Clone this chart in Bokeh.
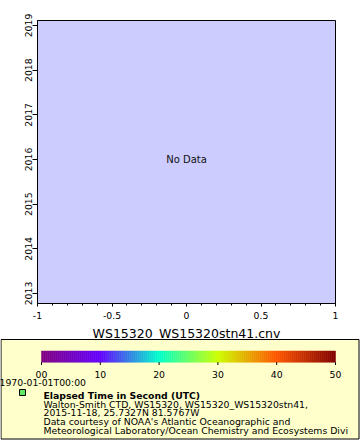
from bokeh.plotting import figure
from bokeh.models import Range1d, FixedTicker, CustomJSTickFormatter
from bokeh.layouts import column
from bokeh.core.properties import value
from bokeh.embed import file_html
from bokeh.resources import INLINE

# ---- data ----
x_start, x_end = -1.0, 1.0
x_ticks = [-1, -0.5, 0, 0.5, 1]
x_tick_labels = ["-1", "-0.5", "0", "0.5", "1"]
x_minor_ticks = [-0.9, -0.8, -0.7, -0.6, -0.4, -0.3, -0.2, -0.1,
                 0.1, 0.2, 0.3, 0.4, 0.6, 0.7, 0.8, 0.9]
y_start, y_end = 2012.776, 2019.112
y_ticks = [2013, 2014, 2015, 2016, 2017, 2018, 2019]
x_axis_title = "WS15320_WS15320stn41.cnv"
message = "No Data"
message_x, message_y = 0, 2016

cb_low, cb_high = 0, 50
cb_ticks = [0, 10, 20, 30, 40, 50]
cb_tick_labels = ["00", "10", "20", "30", "40", "50"]
time_label = "1970-01-01T00:00"
legend_title = "Elapsed Time in Second (UTC)"
legend_lines = [
    "Walton-Smith CTD, WS15320, WS15320_WS15320stn41,",
    "2015-11-18, 25.7327N 81.5767W",
    "Data courtesy of NOAA's Atlantic Oceanographic and",
    "Meteorological Laboratory/Ocean Chemistry and Ecosystems Divi",
]

# palette stops (style)
stop_vals = [0, 10, 20, 30, 40, 50]
stop_rgb = [(128, 0, 128), (100, 0, 255), (0, 255, 204),
            (204, 255, 0), (255, 85, 0), (128, 0, 0)]

FONT = "DejaVu Sans"
W = 360
H1 = 324
H2 = 116


def no_align(p):
    try:
        p.frame_align = False
    except Exception:
        pass


# ---- main plot ----
p1 = figure(width=W, height=H1, x_range=Range1d(x_start, x_end),
            y_range=Range1d(y_start, y_end), output_backend="svg",
            toolbar_location=None, tools="",
            min_border_left=37, min_border_right=25,
            min_border_top=20, min_border_bottom=H1 - 303)
no_align(p1)
p1.background_fill_color = "#CCCCFF"
p1.border_fill_color = "white"
p1.outline_line_color = "black"
p1.outline_line_width = 1
p1.grid.visible = False

xa = p1.xaxis[0]
xa.ticker = FixedTicker(ticks=x_ticks, minor_ticks=x_minor_ticks)
xa.formatter = CustomJSTickFormatter(
    args=dict(tv=x_ticks, tl=x_tick_labels),
    code="""
    let best = 0;
    for (let i = 0; i < tv.length; i++) {
        if (Math.abs(tv[i] - tick) < Math.abs(tv[best] - tick)) best = i;
    }
    return tl[best];
    """)
xa.major_tick_in = 0
xa.major_tick_out = 3
xa.minor_tick_in = 0
xa.minor_tick_out = 2
xa.major_label_standoff = 5
xa.minor_tick_line_color = "black"

ya = p1.yaxis[0]
ya.ticker = FixedTicker(ticks=y_ticks, minor_ticks=[])
ya.major_label_orientation = "vertical"
ya.major_tick_in = 0
ya.major_tick_out = 5
ya.minor_tick_line_color = None
ya.major_label_standoff = 0

for ax in (xa, ya):
    ax.axis_line_color = "black"
    ax.major_tick_line_color = "black"
    ax.major_label_text_font = FONT
    ax.major_label_text_font_size = "9.3px"
    ax.major_label_text_color = "black"

p1.text(x=[message_x], y=[message_y], text=[message], text_align="center",
        text_baseline="middle", text_font=value(FONT), text_font_size="10px",
        text_color="#111111")

# ---- legend / footer panel ----
cb_left_px, cb_right_px = 41, 335
span = (cb_high - cb_low) / (cb_right_px - cb_left_px)
p2 = figure(width=W, height=H2, x_range=Range1d(0, W), y_range=Range1d(H2, 0),
            output_backend="svg", toolbar_location=None, tools="",
            x_axis_location=None, y_axis_location=None, min_border=0,
            min_border_left=0, min_border_right=0,
            min_border_top=0, min_border_bottom=0)
no_align(p2)
p2.extra_x_ranges = {"cb": Range1d(cb_low - cb_left_px * span,
                                   cb_high + (W - cb_right_px) * span)}
p2.outline_line_color = None
p2.background_fill_color = "white"
p2.border_fill_color = "white"
p2.grid.visible = False

# axis title of the main plot
p2.text(x=[(37 + 335) / 2], y=[9], text=[x_axis_title], text_align="center",
        text_baseline="alphabetic", text_font=value(FONT),
        text_font_size="12.5px", text_color="black")

# box background
box_l, box_r, box_t, box_b = 0.5, 358.5, 15, 114.5
p2.quad(left=[box_l], right=[box_r], top=[box_t], bottom=[box_b],
        fill_color="#FFFFCC", line_color=None)

# colour bar
n = 147
edges = [cb_low + (cb_high - cb_low) * i / n for i in range(n + 1)]


def col_at(v):
    for k in range(len(stop_vals) - 1):
        if stop_vals[k] <= v <= stop_vals[k + 1]:
            t = (v - stop_vals[k]) / (stop_vals[k + 1] - stop_vals[k])
            a, b = stop_rgb[k], stop_rgb[k + 1]
            return "#%02x%02x%02x" % tuple(int(round(a[j] + (b[j] - a[j]) * t)) for j in range(3))
    return "#%02x%02x%02x" % stop_rgb[-1]


lefts = edges[:-1]
rights = edges[1:]
cols = [col_at((l + r) / 2) for l, r in zip(lefts, rights)]
p2.quad(left=lefts, right=rights, top=[26.5] * n, bottom=[37.7] * n,
        fill_color=cols, line_color=cols, line_width=0.5, x_range_name="cb")
p2.segment(x0=cb_ticks, x1=cb_ticks, y0=[37.7] * len(cb_ticks),
           y1=[40.5] * len(cb_ticks), line_color="black", line_width=1,
           x_range_name="cb")
p2.text(x=cb_ticks, y=[49.5] * len(cb_ticks), text=cb_tick_labels,
        text_align="center", text_baseline="alphabetic",
        text_font=value(FONT), text_font_size="9.3px", text_color="black",
        x_range_name="cb")

p2.text(x=[-1], y=[58], text=[time_label], text_align="left",
        text_baseline="alphabetic", text_font=value(FONT),
        text_font_size="9.3px", text_color="black")

p2.scatter(x=[22], y=[68], marker="square", size=6, fill_color="#60E860",
           line_color="black", line_width=1)
p2.text(x=[43], y=[71], text=[legend_title], text_align="left",
        text_baseline="alphabetic", text_font=value(FONT),
        text_font_size="9.3px", text_font_style="bold", text_color="black")
p2.text(x=[43] * len(legend_lines), y=[79.5, 88, 97, 106], text=legend_lines,
        text_align="left", text_baseline="alphabetic", text_font=value(FONT),
        text_font_size="9.3px", text_color="black")

# box border on top
p2.quad(left=[box_l], right=[box_r], top=[box_t], bottom=[box_b],
        fill_color=None, line_color="black", line_width=1)

layout = column(p1, p2)
open("out.html", "w").write(file_html(layout, INLINE))
